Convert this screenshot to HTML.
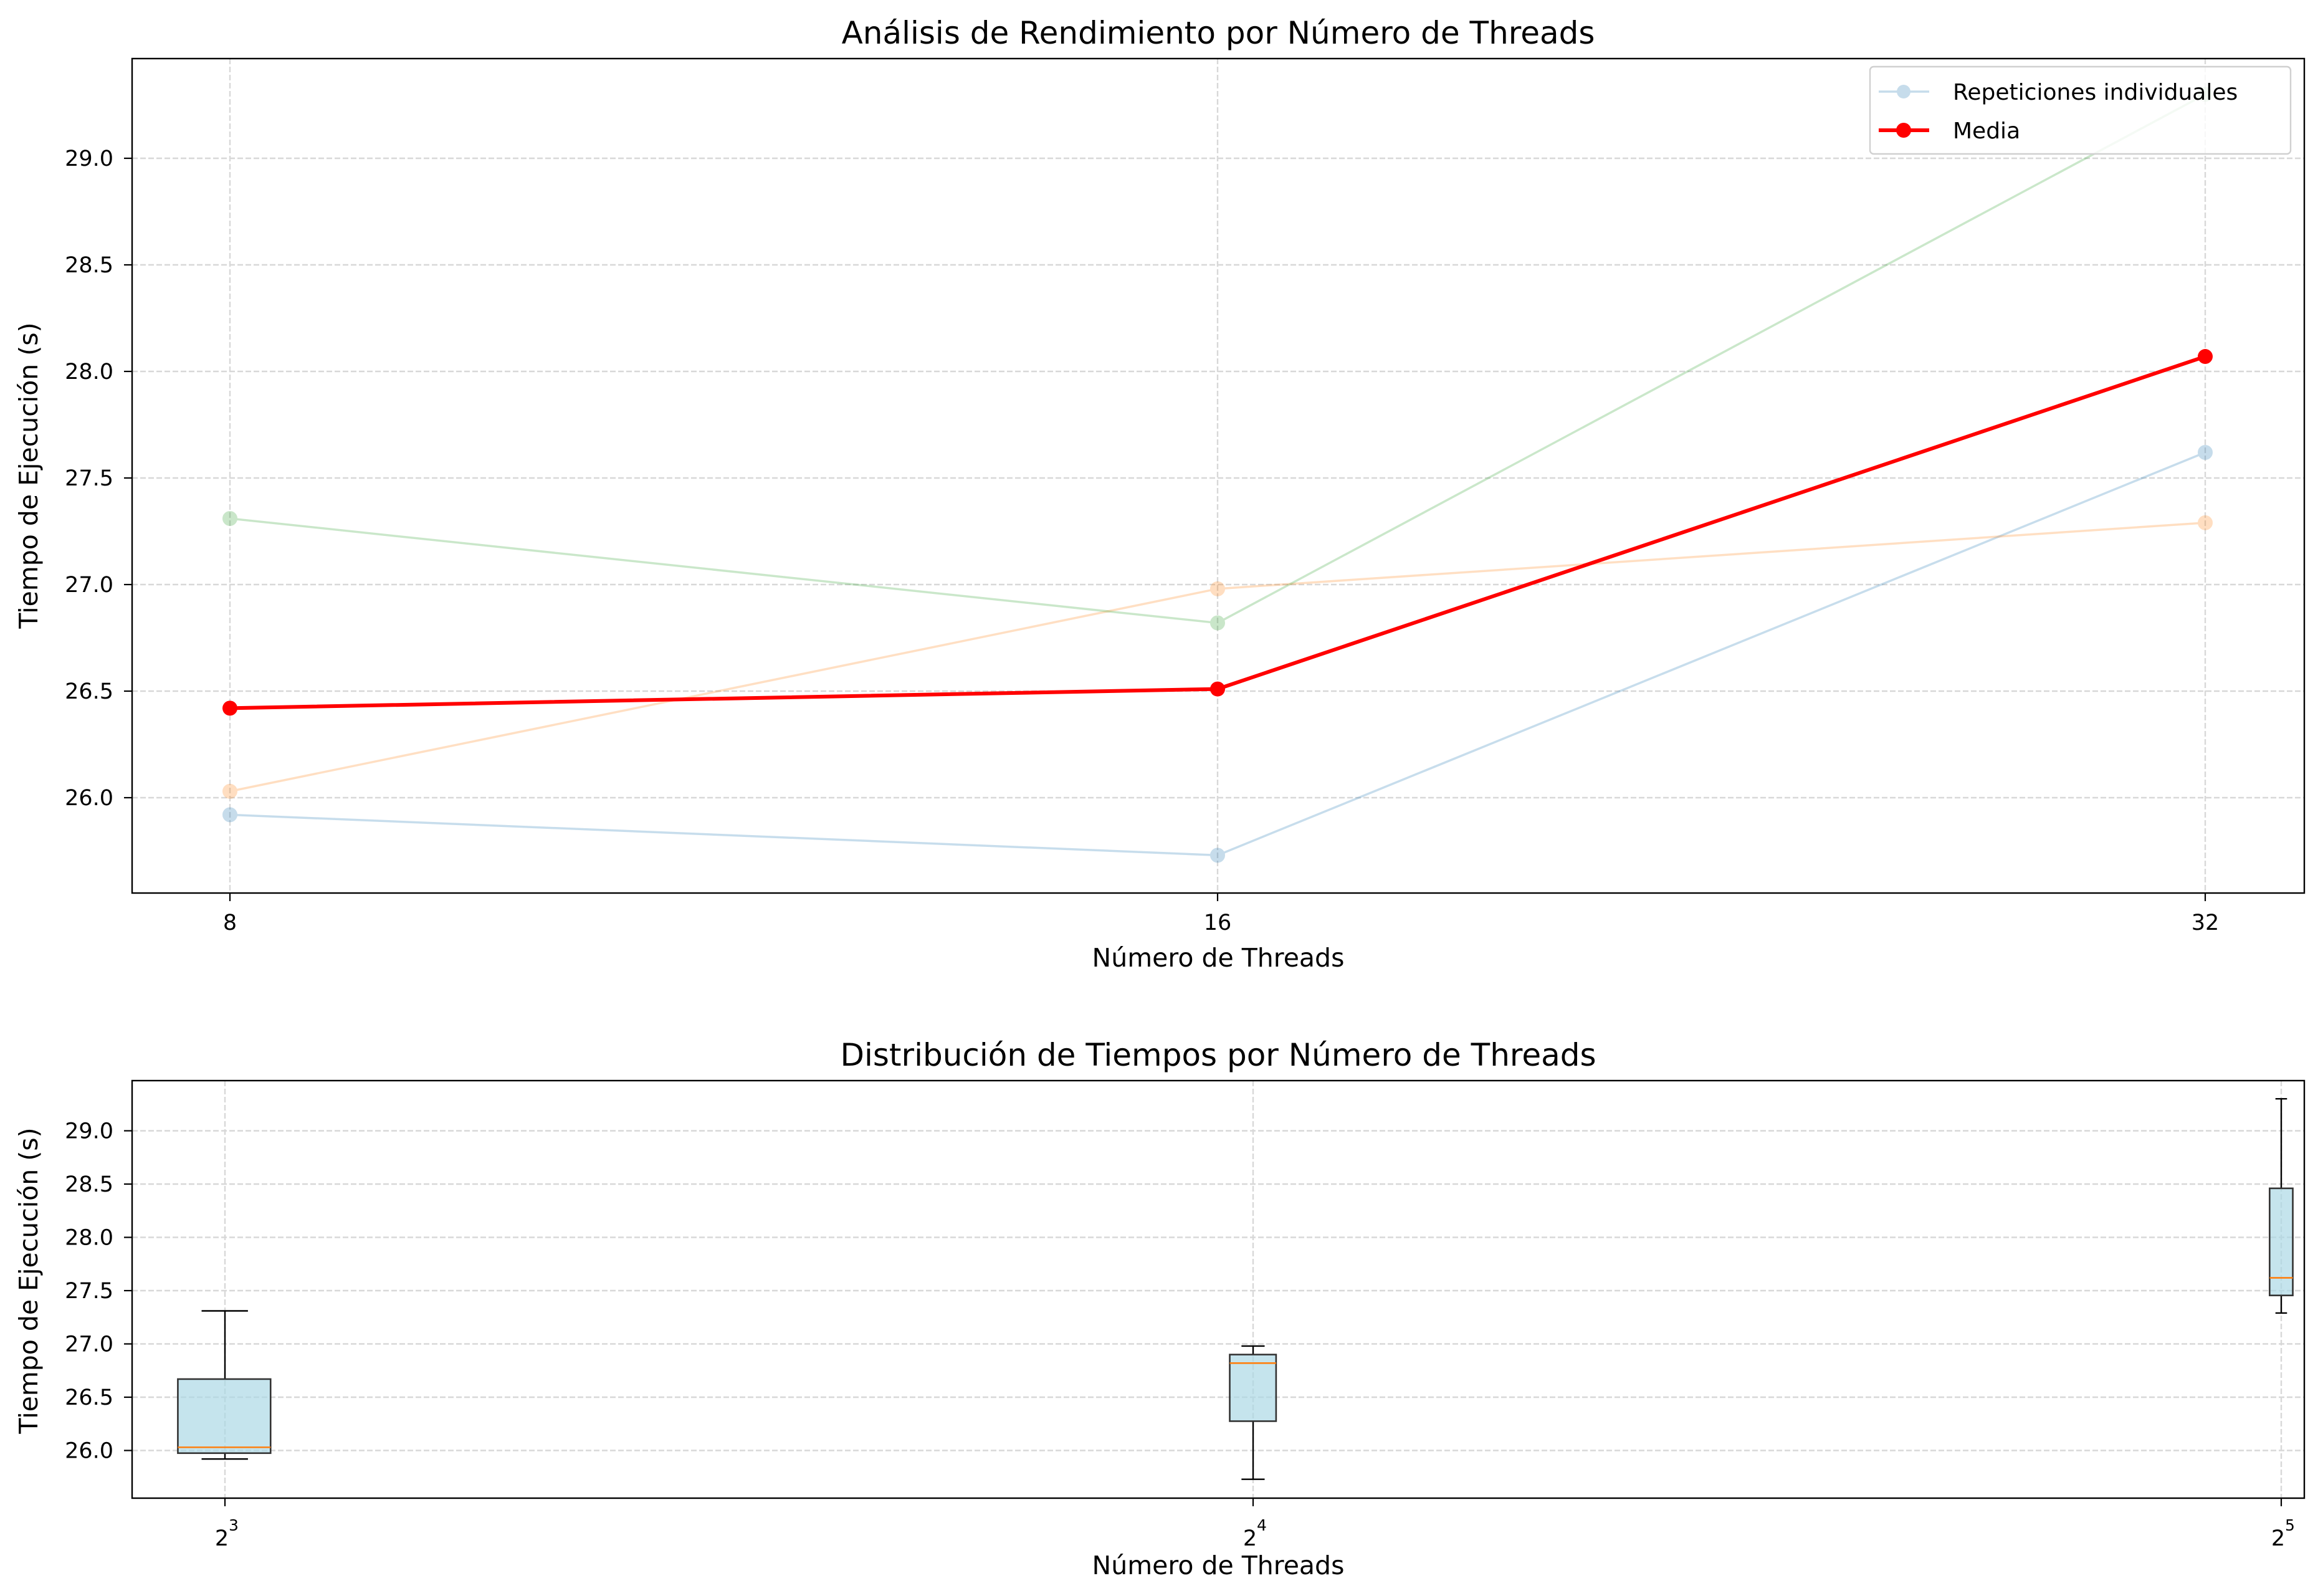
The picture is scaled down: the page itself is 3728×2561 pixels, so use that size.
<!DOCTYPE html>
<html><head><meta charset="utf-8"><style>
html,body{margin:0;padding:0;background:#fff}
svg{display:block;font-family:"DejaVu Sans","Liberation Sans",sans-serif}
</style></head><body>
<svg id="c" width="3728" height="2561" viewBox="0 0 3728 2561" xmlns="http://www.w3.org/2000/svg"></svg>
<script>
const threads = [8, 16, 32];
const rep1 = [25.92, 25.73, 27.62];
const rep2 = [26.03, 26.98, 27.29];
const rep3 = [27.31, 26.82, 29.30];
const yTicks = [26.0, 26.5, 27.0, 27.5, 28.0, 28.5, 29.0];
const yTickLabels = ["26.0", "26.5", "27.0", "27.5", "28.0", "28.5", "29.0"];
const xTickLabels = ["8", "16", "32"];
const xExpLabels = ["3", "4", "5"];

const svg = document.getElementById('c');
const NS = 'http://www.w3.org/2000/svg';
function mk(tag, attrs, parent){const e=document.createElementNS(NS,tag);for(const k in attrs)e.setAttribute(k,attrs[k]);(parent||svg).appendChild(e);return e;}

const T={l:212,r:3698,t:94,b:1433};
const tx=v=>369+(Math.log2(v)-3)*1585;
const ty=v=>1280-(v-26)*342;
const B={l:212,r:3698,t:1734,b:2404};
const bx=v=>361+(Math.log2(v)-3)*1650;
const by=v=>2327.5-(v-26)*171;
const FS=35, LS=41, TS=50;

function axes(A,xf,yf,name){
  const g=mk('g',{});
  
  
  threads.forEach(t=>{mk('line',{x1:xf(t),x2:xf(t),y1:A.t,y2:A.b,stroke:'#d8d8d8','stroke-width':2.4,'stroke-dasharray':'9 4'},g);});
  yTicks.forEach(v=>{mk('line',{x1:A.l,x2:A.r,y1:yf(v),y2:yf(v),stroke:'#d8d8d8','stroke-width':2.4,'stroke-dasharray':'9 4'},g);});
  const ya=mk('g',{});
  
  
  yTicks.forEach((v,i)=>{
    mk('line',{x1:A.l-13,x2:A.l,y1:yf(v),y2:yf(v),stroke:'#000','stroke-width':2.2},ya);
    const t=mk('text',{x:A.l-30,y:yf(v)+12,'text-anchor':'end','font-size':FS},ya);t.textContent=yTickLabels[i];
  });
  const xa=mk('g',{});
  
  
  threads.forEach(t=>{mk('line',{x1:xf(t),x2:xf(t),y1:A.b,y2:A.b+13,stroke:'#000','stroke-width':2.2},xa);});
  return xa;
}
function frame(A,name){
  const r=mk('rect',{x:A.l,y:A.t,width:A.r-A.l,height:A.b-A.t,fill:'none',stroke:'#000','stroke-width':2.4});
  
  
}
function label(x,y,txt,size,name,rot){
  const t=mk('text',{x:x,y:y,'text-anchor':'middle','font-size':size});
  if(rot)t.setAttribute('transform','rotate(-90 '+x+' '+y+')');
  t.textContent=txt;
  
  
}

const xa1=axes(T,tx,ty,'top');
threads.forEach((t,i)=>{const e=mk('text',{x:tx(t),y:1492,'text-anchor':'middle','font-size':FS},xa1);e.textContent=xTickLabels[i];});
const colors=['#1f77b4','#ff7f0e','#2ca02c'];
[rep1,rep2,rep3].forEach((s,k)=>{
  const g=mk('g',{opacity:0.25});
  
  
  mk('polyline',{points:threads.map((t,i)=>tx(t)+','+ty(s[i])).join(' '),fill:'none',stroke:colors[k],'stroke-width':3.5},g);
  threads.forEach((t,i)=>{mk('circle',{cx:tx(t),cy:ty(s[i]),r:11,fill:colors[k],stroke:colors[k],'stroke-width':2},g);});
});
const mean=threads.map((t,i)=>(rep1[i]+rep2[i]+rep3[i])/3);
const mg=mk('g',{});


mk('polyline',{points:threads.map((t,i)=>tx(t)+','+ty(mean[i])).join(' '),fill:'none',stroke:'#ff0000','stroke-width':6},mg);
threads.forEach((t,i)=>{mk('circle',{cx:tx(t),cy:ty(mean[i]),r:12,fill:'#ff0000'},mg);});
frame(T,'top');
const lg=mk('g',{});


mk('rect',{x:3001,y:107,width:675,height:140,rx:6,fill:'#fff','fill-opacity':0.8,stroke:'#d0d0d0','stroke-width':2.4},lg);
const l1=mk('g',{opacity:0.25},lg);
mk('line',{x1:3015,x2:3096,y1:147,y2:147,stroke:'#1f77b4','stroke-width':3.5},l1);
mk('circle',{cx:3055,cy:147,r:11,fill:'#1f77b4'},l1);
let e=mk('text',{x:3134,y:160,'font-size':36},lg);e.textContent='Repeticiones individuales';
mk('line',{x1:3015,x2:3096,y1:209,y2:209,stroke:'#ff0000','stroke-width':6},lg);
mk('circle',{cx:3055,cy:209,r:12,fill:'#ff0000'},lg);
e=mk('text',{x:3134,y:222,'font-size':36},lg);e.textContent='Media';
label(1955,70,'Análisis de Rendimiento por Número de Threads',TS,'top-title');
label(1955,1551,'Número de Threads',LS,'top-x-axis-title');
label(60,763,'Tiempo de Ejecución (s)',LS,'top-y-axis-title',true);

const xa2=axes(B,bx,by,'bottom');
threads.forEach((t,i)=>{
  const e=mk('text',{x:bx(t)-5,y:2480,'text-anchor':'middle','font-size':FS},xa2);e.textContent='2';
  const s=mk('text',{x:bx(t)+14,y:2456,'text-anchor':'middle','font-size':25},xa2);s.textContent=xExpLabels[i];
});
function quant(a,p){const s=[...a].sort((x,y)=>x-y);const h=(s.length-1)*p;const lo=Math.floor(h);return s[lo]+(s[Math.min(lo+1,s.length-1)]-s[lo])*(h-lo);}
threads.forEach((t,i)=>{
  const vals=[rep1[i],rep2[i],rep3[i]];
  const q1=quant(vals,0.25),md=quant(vals,0.5),q3=quant(vals,0.75);
  const lo=Math.min(...vals),hi=Math.max(...vals);
  const x0=bx(t-0.25),x1=bx(t+0.25),xc=bx(t),c0=bx(t-0.125),c1=bx(t+0.125);
  const g=mk('g',{});
  
  
  mk('line',{x1:xc,x2:xc,y1:by(q1),y2:by(lo),stroke:'#000','stroke-width':2.4},g);
  mk('line',{x1:xc,x2:xc,y1:by(q3),y2:by(hi),stroke:'#000','stroke-width':2.4},g);
  mk('line',{x1:c0,x2:c1,y1:by(lo),y2:by(lo),stroke:'#000','stroke-width':2.4},g);
  mk('line',{x1:c0,x2:c1,y1:by(hi),y2:by(hi),stroke:'#000','stroke-width':2.4},g);
  mk('rect',{x:x0,y:by(q3),width:x1-x0,height:by(q1)-by(q3),fill:'#add8e6','fill-opacity':0.7,stroke:'#333','stroke-width':2.6},g);
  mk('line',{x1:x0,x2:x1,y1:by(md),y2:by(md),stroke:'#ff7f0e','stroke-width':2.6},g);
});
frame(B,'bottom');
label(1955,1710,'Distribución de Tiempos por Número de Threads',TS,'bottom-title');
label(1955,2526,'Número de Threads',LS,'bottom-x-axis-title');
label(60,2055,'Tiempo de Ejecución (s)',LS,'bottom-y-axis-title',true);
</script>
</body></html>
